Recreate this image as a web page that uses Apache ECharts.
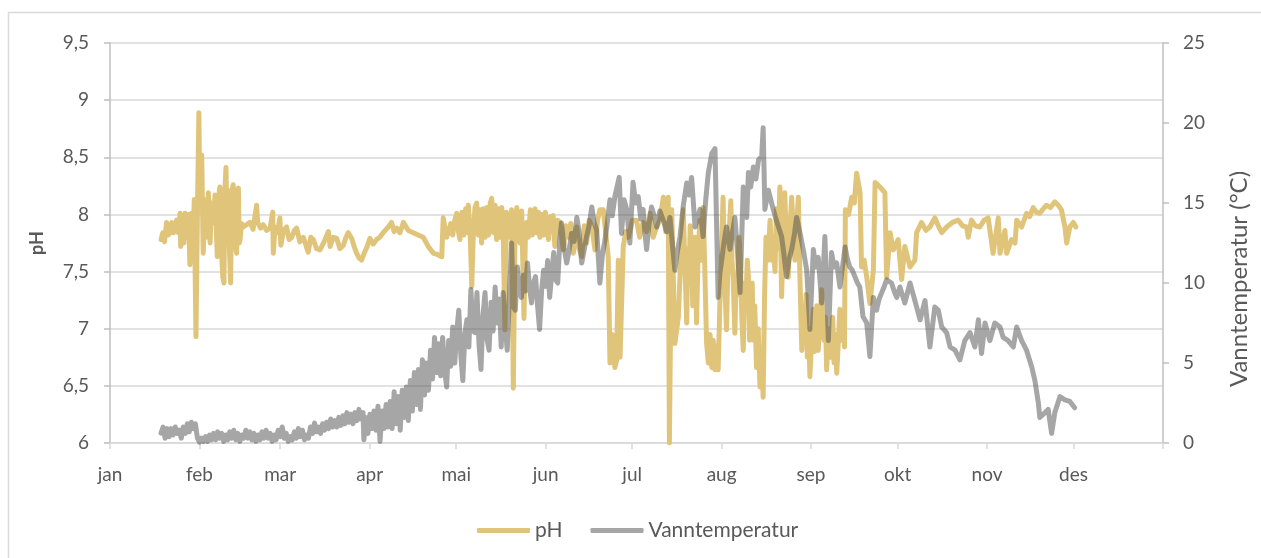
<!DOCTYPE html>
<html>
<head>
<meta charset="utf-8">
<script src="https://cdn.jsdelivr.net/npm/echarts@6/dist/echarts.min.js"></script>
<style>
  html, body { margin: 0; padding: 0; background: #fff; }
  #chart { width: 1261px; height: 558px; }
</style>
</head>
<body>
<div id="chart"></div>
<script>
// month axis (day of year)
var monthNames = ['jan', 'feb', 'mar', 'apr', 'mai', 'jun', 'jul', 'aug', 'sep', 'okt', 'nov', 'des'];
var monthStarts = [0, 31, 59, 90, 120, 151, 181, 212, 243, 273, 304, 334];
var yearEnd = 365;

// pH (day of year / value)
var phDays = [
  17.7, 18.3, 18.9, 19.6, 20.2, 20.8, 21.4, 22.0, 22.5, 23.1,
  23.7, 24.3, 24.5, 25.2, 25.6, 26.0, 26.6, 27.2, 27.7, 28.3,
  28.8, 29.2, 29.8, 30.3, 30.8, 31.2, 31.8, 32.3, 32.8, 33.3,
  33.7, 34.1, 34.7, 35.2, 35.8, 36.4, 37.2, 37.6, 38.1, 38.6,
  39.1, 39.5, 39.8, 40.2, 40.6, 41.0, 41.4, 41.8, 42.2, 42.7,
  43.3, 43.9, 44.2, 44.5, 44.8, 45.1, 45.6, 46.2, 48.5, 49.6,
  50.8, 51.2, 52.2, 53.1, 54.3, 55.5, 56.4, 56.6, 57.2, 58.0,
  58.9, 59.2, 60.2, 61.2, 62.1, 63.0, 63.9, 64.7, 65.8, 67.0,
  67.8, 68.7, 69.6, 70.5, 71.6, 72.8, 74.2, 75.7, 76.3, 77.4,
  78.6, 79.7, 80.9, 81.8, 82.6, 83.8, 84.6, 85.5, 86.3, 87.2,
  88.1, 89.0, 90.1, 91.2, 92.4, 93.5, 94.7, 96.1, 97.6, 98.5,
  99.4, 100.5, 101.7, 103.4, 105.1, 106.8, 108.6, 110.3, 112.1, 113.5,
  115.0, 115.5, 116.7, 117.4, 118.1, 118.8, 119.5, 120.2, 120.8, 121.3,
  122.0, 122.6, 123.3, 123.9, 124.2, 124.8, 125.4, 125.9, 126.5, 127.1,
  127.7, 128.3, 128.8, 129.4, 130.0, 130.6, 131.2, 131.8, 132.3, 132.9,
  133.5, 134.0, 134.6, 135.2, 135.8, 136.3, 136.9, 137.4, 138.1, 138.6,
  139.2, 139.8, 140.4, 141.0, 141.6, 142.1, 142.7, 143.5, 144.0, 144.4,
  145.0, 145.7, 146.4, 147.3, 147.9, 148.5, 149.0, 149.7, 150.3, 150.9,
  151.4, 152.0, 152.6, 153.6, 154.2, 155.1, 156.0, 157.1, 158.0, 158.8,
  159.7, 160.6, 161.8, 162.6, 163.5, 164.4, 165.2, 166.1, 167.0, 168.1,
  169.0, 169.8, 171.0, 172.7, 173.3, 174.1, 175.0, 175.6, 176.2, 176.8, 177.9, 178.8,
  179.7, 181.1, 182.5, 183.6, 184.8, 186.0, 187.2, 188.3, 189.5, 190.6,
  191.8, 192.6, 193.5, 193.9, 194.7, 195.8, 197.0, 197.8, 198.7, 199.9,
  200.3, 200.7, 201.1, 201.6, 202.0, 202.4, 202.9, 203.3, 203.9, 204.5,
  205.0, 205.6, 206.2, 206.8, 207.4, 208.0, 208.6, 209.1, 209.7, 210.3,
  210.8, 211.4, 211.9, 212.5, 213.1, 213.7, 214.3, 215.2, 215.6, 216.0,
  216.6, 217.0, 217.5, 218.0, 218.4, 219.0, 219.5, 220.0, 220.4, 220.9,
  221.3, 221.7, 222.1, 222.6, 223.0, 223.5, 224.1, 224.7, 225.3, 225.8,
  226.4, 226.9, 227.4, 228.1, 228.8, 229.4, 229.9, 230.5, 231.0, 231.6,
  232.2, 232.8, 233.4, 233.9, 234.5, 235.1, 235.7, 236.3, 236.9, 237.4,
  238.0, 238.6, 239.2, 239.8, 240.4, 240.9, 241.3, 241.7, 242.2, 242.6,
  243.2, 243.8, 244.2, 244.6, 245.0, 245.5, 246.1, 246.7, 247.1, 247.5,
  248.0, 248.4, 248.8, 249.2, 249.7, 250.1, 250.5, 251.0, 251.5, 251.9,
  252.5, 253.0, 253.6, 254.1, 254.6, 254.9, 256.0, 257.1, 258.0, 258.8,
  260.0, 260.5,
  261.4, 262.3, 263.4, 264.6, 265.2, 266.9, 268.6, 269.2, 270.4, 271.5,
  273.2, 274.4, 275.5, 277.3, 279.0, 279.6, 281.3, 282.8, 284.2, 285.9,
  287.1, 288.3, 290.0, 292.0, 294.0, 295.5, 296.9, 297.5, 298.6, 300.0,
  301.5, 303.0, 304.4, 306.1, 307.9, 308.5, 310.2, 310.8, 312.5, 313.7,
  314.3, 316.0, 317.7, 318.8, 320.0, 321.1, 322.3, 323.5, 324.6, 326.0,
  327.5, 328.7, 329.8, 331.0, 331.6, 332.7, 333.9, 334.8
];
var phValues = [
  7.78, 7.84, 7.76, 7.93, 7.82, 7.84, 7.93, 7.84, 7.88, 7.95,
  7.84, 8.01, 7.72, 7.98, 7.75, 8.01, 7.80, 8.00, 7.56, 8.01,
  7.72, 8.13, 6.93, 8.00, 8.89, 8.06, 8.52, 7.66, 8.00, 8.13,
  7.80, 8.19, 7.75, 8.10, 7.93, 8.17, 7.63, 8.15, 8.24, 7.70,
  7.45, 7.40, 8.20, 8.41, 7.75, 8.21, 7.70, 7.40, 8.20, 8.26,
  7.75, 7.66, 8.20, 8.23, 7.75, 7.78, 7.92, 7.89, 7.93, 7.87,
  8.08, 7.93, 7.88, 7.91, 7.86, 7.88, 8.02, 7.66, 7.89, 7.84,
  7.97, 7.73, 7.86, 7.89, 7.78, 7.80, 7.86, 7.88, 7.76, 7.80,
  7.74, 7.67, 7.80, 7.78, 7.70, 7.69, 7.76, 7.85, 7.72, 7.80,
  7.79, 7.70, 7.73, 7.80, 7.84, 7.79, 7.72, 7.66, 7.62, 7.60,
  7.66, 7.71, 7.79, 7.74, 7.78, 7.80, 7.84, 7.88, 7.93, 7.85,
  7.88, 7.84, 7.93, 7.86, 7.84, 7.82, 7.80, 7.72, 7.66, 7.65,
  7.63, 7.97, 7.80, 7.85, 7.92, 7.82, 7.95, 8.01, 7.85, 7.78,
  8.02, 7.82, 8.05, 7.84, 8.08, 7.86, 7.37, 7.80, 8.06, 8.10,
  7.82, 8.04, 7.75, 8.05, 7.80, 8.06, 7.82, 8.10, 8.14, 7.84,
  8.08, 7.78, 8.05, 7.80, 8.06, 7.82, 6.99, 8.02, 7.95, 7.80,
  8.04, 6.48, 7.84, 8.06, 7.80, 7.75, 8.03, 7.09, 7.85, 7.93,
  7.80, 8.04, 7.82, 8.05, 7.84, 8.02, 7.80, 8.00, 7.82, 8.02,
  8.01, 7.78, 7.98, 7.99, 7.72, 7.95, 7.93, 7.69, 7.90, 7.80,
  7.92, 7.66, 7.89, 7.70, 7.63, 7.90, 7.75, 7.95, 7.89, 7.69,
  7.95, 8.04, 8.04, 7.63, 6.70, 6.95, 6.66, 6.72, 7.60, 6.75, 7.72, 7.85,
  7.80, 7.95, 7.95, 7.80, 7.93, 7.85, 8.01, 7.80, 7.89, 7.95,
  8.15, 7.85, 8.15, 6.00, 8.04, 6.87, 7.10, 7.60, 8.04, 7.05,
  7.70, 7.40, 7.90, 7.75, 7.20, 7.30, 7.80, 7.05, 7.70, 7.95,
  7.60, 8.06, 7.50, 6.87, 6.70, 6.95, 6.66, 6.90, 6.64, 6.85,
  6.64, 7.22, 7.60, 8.15, 7.40, 6.99, 7.70, 8.12, 7.60, 7.45,
  6.96, 7.40, 7.30, 7.80, 7.66, 7.10, 6.81, 7.40, 7.20, 7.60,
  7.45, 6.90, 7.10, 7.40, 6.90, 7.20, 6.66, 7.00, 6.49, 6.80,
  6.40, 7.30, 7.80, 7.60, 7.95, 7.60, 7.80, 7.50, 8.05, 7.70,
  8.24, 7.28, 7.90, 8.19, 7.70, 7.45, 7.90, 8.15, 7.80, 7.60,
  7.90, 8.15, 7.40, 6.81, 7.20, 7.05, 7.30, 6.75, 7.00, 6.58,
  6.90, 7.17, 6.80, 6.95, 7.20, 6.81, 7.10, 7.34, 7.00, 6.90,
  7.10, 6.64, 6.85, 7.00, 6.75, 6.90, 7.10, 6.70, 6.95, 6.61,
  6.90, 7.17, 6.90, 7.10, 6.84, 8.04, 8.00, 8.15, 8.10, 8.36,
  8.19, 7.54,
  7.60, 7.45, 7.22, 7.51, 8.28, 8.24, 8.19, 7.45, 7.84, 7.69,
  7.78, 7.43, 7.72, 7.54, 7.60, 7.84, 7.93, 7.86, 7.89, 7.97,
  7.90, 7.84, 7.89, 7.93, 7.95, 7.90, 7.89, 7.80, 7.95, 7.90,
  7.89, 7.95, 7.97, 7.66, 7.97, 7.66, 7.86, 7.66, 7.78, 7.75,
  7.95, 7.89, 8.01, 7.98, 8.06, 8.02, 8.01, 8.05, 8.08, 8.06,
  8.11, 8.08, 8.04, 7.89, 7.75, 7.89, 7.93, 7.89
];

// Vanntemperatur (°C) (day of year / value)
var tempDays = [
  17.7, 18.4, 19.1, 19.8, 20.5, 21.2, 21.9, 22.6, 23.3, 24.0,
  24.7, 25.4, 26.1, 26.8, 27.5, 28.2, 28.9, 29.6, 30.3, 31.0,
  31.7, 32.4, 33.1, 33.8, 34.5, 35.2, 35.9, 36.6, 37.3, 38.0,
  38.7, 39.4, 40.1, 40.8, 41.5, 42.2, 42.9, 43.6, 44.3, 45.0,
  45.7, 46.4, 47.1, 47.8, 48.5, 49.2, 49.9, 50.6, 51.3, 52.0,
  52.7, 53.4, 54.1, 54.8, 55.5, 56.2, 56.9, 57.6, 58.3, 59.0,
  59.7, 60.4, 61.1, 61.8, 62.5, 63.2, 63.9, 64.6, 65.3, 66.0,
  66.7, 67.4, 68.1, 68.8, 69.5, 70.2, 70.9, 71.6, 72.3, 73.0,
  73.7, 74.4, 75.1, 75.8, 76.5, 77.2, 77.9, 78.6, 79.3, 80.0,
  80.7, 81.4, 82.1, 82.8, 83.5, 84.2, 84.9, 85.6, 86.3, 87.0,
  87.7, 88.0, 88.7, 89.4, 90.1, 90.8, 91.5, 92.2, 92.9, 93.6,
  94.3, 95.0, 95.7, 96.4, 97.1, 97.8, 98.5, 99.2, 99.9, 100.6,
  101.3, 102.0, 102.7, 103.4, 104.1, 104.8, 105.5, 106.2, 106.9, 107.6,
  108.3, 109.0, 109.7, 110.4, 111.1, 111.8, 112.5, 113.2, 113.9, 114.6,
  115.3, 116.0, 116.7, 117.4, 118.1, 118.8, 119.5, 120.2, 120.9, 121.6,
  122.3, 123.0, 123.7, 124.4, 125.1, 125.8, 126.5, 127.2, 127.9, 128.6,
  129.3, 130.0, 130.7, 131.4, 132.1, 132.8, 133.5, 134.2, 134.9, 135.6,
  136.3, 137.0, 137.7, 138.4, 139.2, 139.8, 140.5, 141.2, 141.9, 142.6,
  143.3, 144.0, 144.7, 145.4, 146.1, 146.8, 147.5, 148.2, 148.9, 149.6,
  150.3, 151.0, 151.7, 152.4, 153.1, 153.8, 154.5, 155.2, 155.9, 156.5,
  157.4, 158.3, 159.1, 160.0, 160.9, 161.8, 162.6, 163.5, 164.3, 165.2,
  166.1, 167.0, 167.8, 168.7, 169.8, 170.7, 171.6, 172.4, 173.3, 174.1,
  175.0, 176.5, 177.3, 178.2, 179.1, 180.2, 181.3, 182.2, 183.1, 184.0,
  184.8, 185.4, 186.0, 186.8, 187.7, 188.6, 189.5, 190.6, 191.8, 193.0,
  194.1, 194.9, 195.8, 196.7, 197.6, 198.7, 199.9, 200.7, 201.6, 202.8,
  203.6, 204.5, 205.6, 206.5, 207.4, 208.6, 209.7, 210.8, 211.4, 212.0,
  212.8, 213.7, 214.9, 215.8, 216.6, 217.5, 218.4, 219.5, 220.7, 221.3,
  222.1, 223.0, 223.9, 224.8, 225.9, 226.4, 227.0, 228.2, 229.9, 231.0,
  232.8, 233.6, 234.5, 235.4, 236.3, 237.2, 238.0, 239.2, 240.3, 241.5,
  242.6, 243.8, 244.6, 245.5, 246.7, 247.8, 249.0, 250.1, 251.0, 251.9,
  253.0, 254.8, 255.6, 256.4, 257.3, 258.2, 259.1, 259.9, 261.0, 262.3,
  263.4, 264.6, 265.7, 266.6, 267.5, 268.4, 269.2, 270.9, 271.8, 272.7,
  273.8, 275.5, 277.3, 279.0, 280.8, 282.5, 284.2, 285.9, 287.1, 288.3,
  290.0, 291.2, 292.9, 294.6, 296.3, 298.1, 299.8, 301.0, 302.1, 303.3,
  305.0, 306.7, 308.5, 309.6, 311.3, 313.1, 314.3, 316.0, 317.7, 319.5,
  320.6, 321.8, 322.3, 324.1, 325.2, 326.4, 327.5, 329.3, 331.0, 332.7,
  334.4
];
var tempValues = [
  0.62, 1.0, 0.3, 0.9, 0.4, 0.9, 0.5, 1.0, 0.6, 0.8,
  0.3, 1.0, 0.6, 1.2, 0.7, 1.3, 0.9, 1.2, 0.3, 0.05,
  0.3, 0.1, 0.4, 0.1, 0.5, 0.2, 0.6, 0.2, 0.7, 0.3,
  0.6, 0.1, 0.5, 0.2, 0.7, 0.3, 0.8, 0.2, 0.6, 0.1,
  0.5, 0.3, 0.8, 0.3, 0.7, 0.2, 0.6, 0.1, 0.5, 0.2,
  0.7, 0.3, 0.8, 0.3, 0.6, 0.1, 0.5, 0.2, 0.8, 0.4,
  1.0, 0.3, 0.6, 0.1, 0.4, 0.2, 0.7, 0.3, 0.9, 0.4,
  0.8, 0.2, 0.5, 0.3, 1.0, 0.6, 1.25, 0.7, 1.0, 0.6,
  1.2, 0.8, 1.3, 0.9, 1.5, 1.0, 1.4, 1.0, 1.6, 1.1,
  1.7, 1.2, 1.9, 1.3, 1.8, 1.2, 1.9, 1.4, 2.1, 1.5,
  1.9, 0.2, 1.6, 0.6, 1.8, 0.9, 2.0, 0.8, 2.3, 0.1,
  2.0, 0.9, 2.4, 1.0, 2.6, 0.9, 3.2, 1.2, 2.9, 0.8,
  3.3, 1.6, 3.5, 1.4, 3.9, 2.0, 4.4, 2.4, 4.6, 2.1,
  5.2, 3.0, 5.0, 3.3, 5.8, 4.0, 6.6, 4.4, 6.2, 4.2,
  6.6, 4.5, 3.5, 6.4, 4.8, 7.25, 5.0, 7.0, 8.3, 5.5,
  3.9, 6.8, 7.7, 6.0, 9.6, 7.0, 6.9, 9.4, 6.2, 4.6,
  8.0, 9.4, 6.5, 5.8, 8.8, 7.0, 9.75, 7.5, 9.0, 6.0,
  9.4, 7.2, 5.8, 9.0, 12.5, 8.5, 8.3, 11.0, 9.5, 9.1,
  10.5, 9.5, 11.25, 9.8, 8.75, 10.0, 10.4, 8.6, 7.1, 9.5,
  10.8, 9.8, 11.4, 9.1, 10.5, 11.9, 10.2, 10.0, 12.6, 13.75,
  12.2, 11.25, 12.0, 13.1, 12.6, 14.1, 13.2, 11.25, 12.0, 12.9,
  13.6, 14.75, 13.8, 13.3, 10.0, 11.8, 12.7, 13.8, 15.2, 14.2,
  15.4, 16.6, 13.1, 15.2, 14.6, 12.5, 16.3, 15.0, 15.4, 14.0,
  14.6, 13.2, 12.1, 13.6, 14.75, 14.2, 13.5, 14.5, 13.9, 13.2,
  14.1, 12.5, 10.8, 12.0, 12.9, 14.8, 16.25, 15.5, 16.6, 13.5,
  14.0, 14.6, 12.9, 15.2, 16.9, 18.1, 18.4, 9.1, 10.6, 11.4,
  12.5, 13.5, 12.1, 13.2, 14.1, 12.0, 9.4, 16.0, 14.1, 16.9,
  16.0, 17.25, 16.5, 17.7, 17.9, 19.7, 14.6, 15.8, 14.6, 13.9,
  12.9, 11.8, 10.4, 11.5, 12.1, 13.0, 14.1, 13.1, 12.1, 10.8,
  7.1, 12.1, 11.0, 11.6, 8.75, 12.9, 6.4, 11.9, 11.0, 11.25,
  9.75, 12.25, 11.5, 11.0, 10.8, 10.4, 10.0, 9.75, 7.9, 7.5,
  5.4, 9.1, 8.3, 9.0, 9.4, 9.8, 10.2, 10.0, 9.5, 9.1,
  9.75, 8.75, 10.0, 8.9, 7.7, 8.9, 6.0, 8.5, 8.3, 7.25,
  6.9, 6.0, 5.8, 5.2, 6.4, 6.9, 6.0, 7.7, 5.6, 7.5,
  6.4, 7.5, 7.25, 6.6, 6.4, 6.0, 7.25, 6.4, 5.8, 4.75,
  3.9, 2.5, 1.6, 1.9, 2.1, 0.6, 1.9, 2.9, 2.7, 2.6,
  2.2
];

var textColor = '#595959';
var font = 'Lato';

function pairs(days, values) {
  return days.map(function (d, i) { return [d, values[i]]; });
}

var chart = echarts.init(document.getElementById('chart'), null, { renderer: 'canvas' });

chart.setOption({
  animation: false,
  backgroundColor: '#fff',
  textStyle: { fontFamily: font, color: textColor },
  graphic: [{
    type: 'rect',
    silent: true,
    z: -10,
    shape: { x: 8.5, y: 12.5, width: 1300, height: 600 },
    style: { fill: 'none', stroke: '#d9d9d9', lineWidth: 1.5 }
  }],
  grid: { left: 110, right: 98, top: 43, bottom: 115 },
  legend: {
    left: 472,
    top: 515,
    itemWidth: 53,
    itemHeight: 5,
    itemGap: 28,
    icon: 'roundRect',
    textStyle: { fontFamily: font, fontSize: 21, color: textColor },
    data: ['pH', 'Vanntemperatur']
  },
  xAxis: {
    type: 'value',
    min: 0,
    max: yearEnd,
    splitLine: { show: false },
    axisLine: { show: true, lineStyle: { color: '#d9d9d9', width: 1.5 } },
    axisTick: {
      show: true, length: 6,
      customValues: monthStarts.concat([yearEnd]),
      lineStyle: { color: '#d9d9d9', width: 1.5 }
    },
    axisLabel: {
      margin: 22,
      fontSize: 19,
      fontFamily: font,
      color: textColor,
      customValues: monthStarts,
      formatter: function (v) {
        var i = monthStarts.indexOf(v);
        return i >= 0 ? monthNames[i] : '';
      }
    }
  },
  yAxis: [{
    type: 'value',
    min: 6,
    max: 9.5,
    interval: 0.5,
    position: 'left',
    name: 'pH',
    nameLocation: 'middle',
    nameGap: 64,
    nameTextStyle: { fontFamily: font, fontSize: 18, fontWeight: 'bold', color: textColor },
    axisLine: { show: true, lineStyle: { color: '#bfbfbf', width: 1.5 } },
    axisTick: { show: true, length: 6, lineStyle: { color: '#bfbfbf', width: 1.5 } },
    axisLabel: {
      margin: 21,
      fontSize: 19,
      fontFamily: font,
      color: textColor,
      formatter: function (v) { return String(v).replace('.', ','); }
    },
    splitLine: { show: true, lineStyle: { color: '#d9d9d9', width: 1.5 } }
  }, {
    type: 'value',
    min: 0,
    max: 25,
    interval: 5,
    position: 'right',
    name: 'Vanntemperatur (°C)',
    nameLocation: 'middle',
    nameGap: 64,
    nameTextStyle: { fontFamily: font, fontSize: 24, color: textColor, padding: [0, 72, 0, 0] },
    axisLine: { show: true, lineStyle: { color: '#bfbfbf', width: 1.5 } },
    axisTick: { show: true, length: 6, lineStyle: { color: '#bfbfbf', width: 1.5 } },
    axisLabel: { margin: 20, fontSize: 19, fontFamily: font, color: textColor },
    splitLine: { show: false }
  }],
  series: [{
    name: 'pH',
    type: 'line',
    yAxisIndex: 0,
    showSymbol: false,
    symbol: 'none',
    data: pairs(phDays, phValues),
    itemStyle: { color: '#e0c47a' },
    lineStyle: { color: '#e0c47a', width: 5, join: 'round', cap: 'round' }
  }, {
    name: 'Vanntemperatur',
    type: 'line',
    yAxisIndex: 1,
    showSymbol: false,
    symbol: 'none',
    data: pairs(tempDays, tempValues),
    itemStyle: { color: 'rgba(77,77,77,0.5)' },
    lineStyle: { color: 'rgba(77,77,77,0.5)', width: 5, join: 'round', cap: 'round' }
  }]
});
</script>
</body>
</html>
